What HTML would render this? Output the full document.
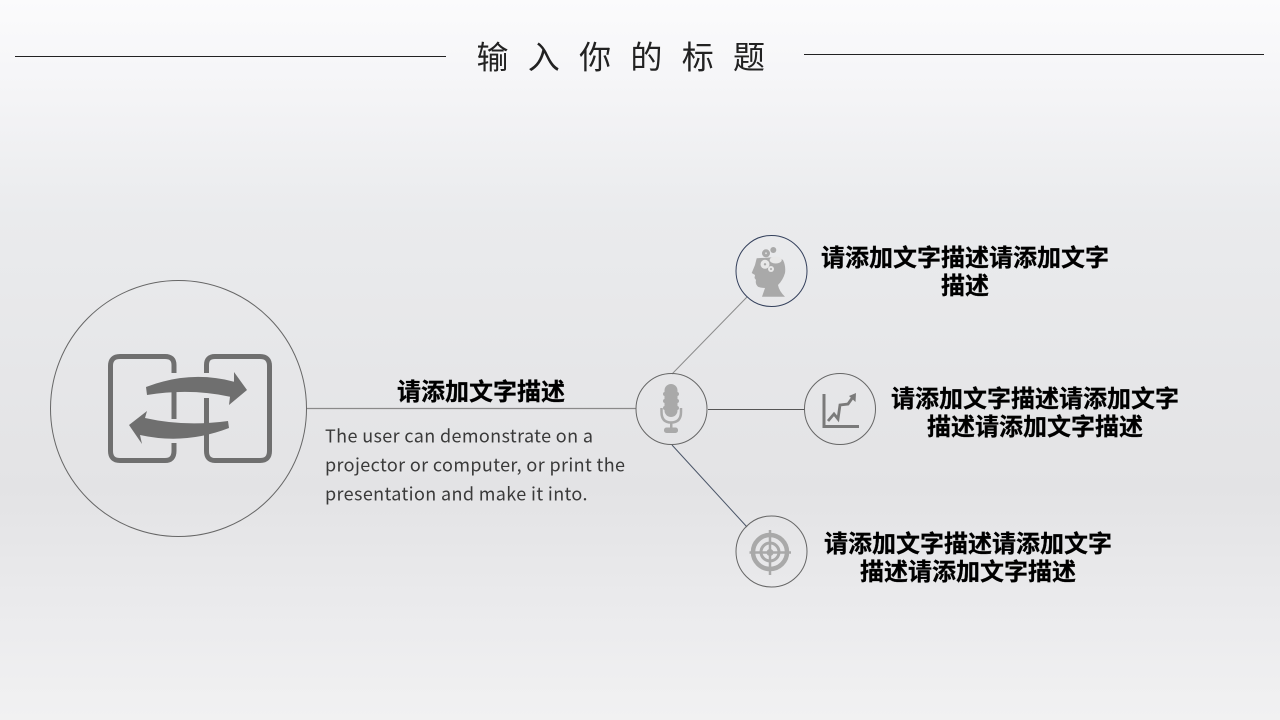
<!DOCTYPE html>
<html lang="zh"><head><meta charset="utf-8"><title>输入你的标题</title>
<style>
html,body{margin:0;padding:0;background:#e4e5e7}
svg{display:block}
.t{font-family:"Liberation Sans","Noto Sans CJK SC",sans-serif;font-weight:700;font-size:24px;fill:#000;text-anchor:middle;stroke:#000;stroke-width:.25px}
.b{font-family:"Noto Sans CJK SC",sans-serif;font-size:18px;fill:#3a3a3a;letter-spacing:.37px}
</style></head><body>
<svg xmlns="http://www.w3.org/2000/svg" width="1280" height="720" viewBox="0 0 1280 720">
<defs><linearGradient id="bg" x1="0" y1="0" x2="0" y2="1">
<stop offset="0" stop-color="#fbfbfc"/><stop offset=".1" stop-color="#f6f6f8"/><stop offset=".3" stop-color="#eaebed"/><stop offset=".68" stop-color="#e3e3e5"/><stop offset=".85" stop-color="#ebebed"/><stop offset="1" stop-color="#f1f1f2"/></linearGradient></defs>
<rect width="1280" height="720" fill="url(#bg)"/>

<line x1="15" y1="56.5" x2="446" y2="56.5" stroke="#222" stroke-width="1"/>
<line x1="804" y1="54.5" x2="1264" y2="54.5" stroke="#222" stroke-width="1"/>
<text x="476.500" y="68.500" style="font-family:'Noto Sans CJK SC',sans-serif;font-size:32px;fill:#222;letter-spacing:19.3px">输入你的标题</text>

<!-- connectors -->
<line x1="307" y1="408.500" x2="636" y2="408.500" stroke="#8a8a8a" stroke-width="1.300"/>
<line x1="708" y1="409.500" x2="805" y2="409.500" stroke="#555" stroke-width="1"/>
<line x1="672" y1="374" x2="747" y2="297" stroke="#8c8c8c" stroke-width="1"/>
<line x1="672" y1="445" x2="747" y2="527" stroke="#4a5568" stroke-width="1"/>

<!-- circles -->
<circle cx="178.500" cy="408.500" r="128" fill="none" stroke="#666" stroke-width="1"/>
<circle cx="671.500" cy="409" r="35.500" fill="none" stroke="#666" stroke-width="1"/>
<circle cx="771.500" cy="271" r="35.500" fill="none" stroke="#34405c" stroke-width="1"/>
<circle cx="840" cy="409" r="35.500" fill="none" stroke="#666" stroke-width="1"/>
<circle cx="771.500" cy="551.500" r="35.500" fill="none" stroke="#666" stroke-width="1"/>

<!-- exchange icon -->
<g fill="none" stroke="#6f6f6f" stroke-width="5">
<path d="M174 373V365Q174 356.500 165 356.500H120Q110.500 356.500 110.500 366V451Q110.500 460.500 120 460.500H165Q174 460.500 174 451V443"/>
<path d="M174 391V419"/>
<path d="M206.500 373V365Q206.500 356.500 215 356.500H260Q269.500 356.500 269.500 366V451Q269.500 460.500 260 460.500H215Q206.500 460.500 206.500 451V398"/>
</g>
<g fill="#6f6f6f">
<path d="M146 387Q190 370 234 381.700L234 372L247 390L229 405L230 396.700Q190 388 147 395Z"/>
<path d="M228 421Q185 427 145 418L147 411L129 425L142 444L140 435Q185 445 229 428Z"/>
</g>

<!-- mic -->
<g fill="#a9a9a9">
<rect x="664.500" y="384" width="13" height="33" rx="6.500"/>
<rect x="663" y="392" width="16" height="4" rx="2"/><rect x="663" y="399" width="16" height="4" rx="2"/><rect x="663" y="406" width="16" height="4" rx="2"/>
<rect x="670" y="422" width="2.500" height="7"/>
<rect x="664" y="427.500" width="14" height="5.500" rx="2.500"/>
</g>
<path d="M661.500 408V412Q661.500 422.500 671 422.500Q681 422.500 681 412V408" fill="none" stroke="#a9a9a9" stroke-width="2.500"/>

<!-- head -->
<path fill="#a9a9a9" d="M756.700 258.300L778 257L783 260Q786 266 785 273Q783 280 778 285Q779 291 785 296.700H762L765 288Q761 288 758 286.700Q755 284 756 280L754.500 278L755 275L751.700 273L755 265Z"/>
<g fill="#a9a9a9"><circle cx="766" cy="253.300" r="4"/><circle cx="773.300" cy="250" r="3"/></g>
<g fill="#e8e8e8"><circle cx="765" cy="264.300" r="4.500"/><ellipse cx="775.700" cy="260" rx="6" ry="3.500"/><circle cx="771" cy="269" r="3"/></g>
<g fill="#a9a9a9"><circle cx="765" cy="264.300" r="1.200"/><circle cx="771" cy="269" r="1"/><circle cx="766" cy="253.300" r="1" fill="#ddd"/></g>

<!-- chart -->
<path d="M824 394V426.500H859" fill="none" stroke="#7a7a7a" stroke-width="3"/>
<path d="M828 421L834 414L838 419L840 405L848 404L853 397" fill="none" stroke="#7a7a7a" stroke-width="2.800"/>
<path fill="#7a7a7a" d="M849 396L856 393L855.500 402Z"/>

<!-- target -->
<g fill="none" stroke="#a9a9a9">
<circle cx="770" cy="552" r="17" stroke-width="4.500"/>
<circle cx="770" cy="552" r="9" stroke-width="3"/>
<path d="M749.500 552.500H791M770 530V575" stroke-width="2.500"/>
</g>
<circle cx="770" cy="552.500" r="3.500" fill="#a9a9a9"/>

<!-- labels -->
<text class="t" x="481" y="400">请添加文字描述</text>
<text class="b" x="325" y="442.500">The user can demonstrate on a</text>
<text class="b" x="325" y="471.500">projector or computer, or print the</text>
<text class="b" x="325" y="500.500">presentation and make it into.</text>

<text class="t" x="965" y="266">请添加文字描述请添加文字</text>
<text class="t" x="965" y="294">描述</text>
<text class="t" x="1035" y="407">请添加文字描述请添加文字</text>
<text class="t" x="1035" y="435">描述请添加文字描述</text>
<text class="t" x="968" y="552">请添加文字描述请添加文字</text>
<text class="t" x="968" y="580">描述请添加文字描述</text>
</svg>
</body></html>
